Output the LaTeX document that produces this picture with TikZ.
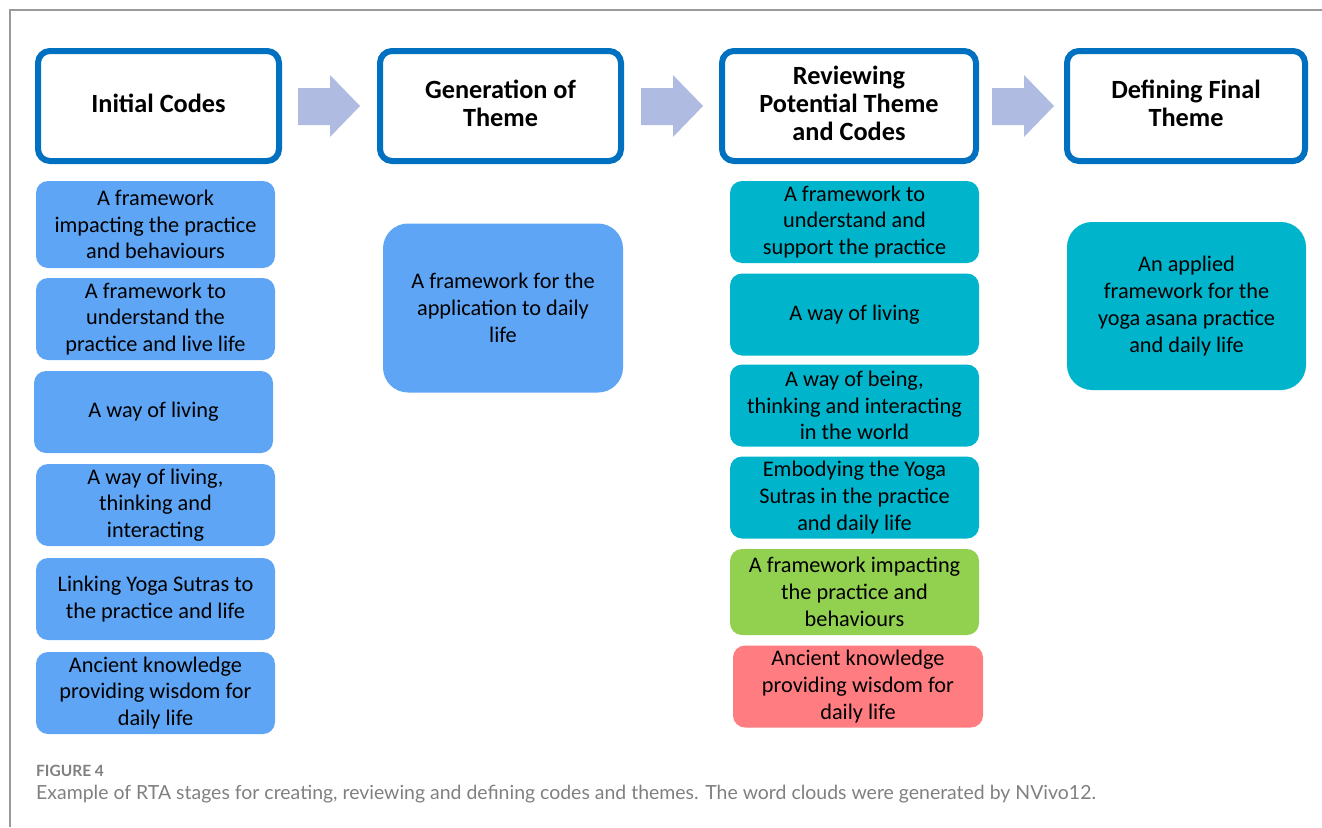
\documentclass[tikz,border=0pt]{standalone}
\usepackage{fontspec}
\setmainfont{Carlito}
\newfontfamily\captionfont{Lato}

\definecolor{headblue}{HTML}{0070C0}
\definecolor{codeblue}{HTML}{5FA5F5}
\definecolor{codeteal}{HTML}{00B4CC}
\definecolor{codegreen}{HTML}{92D050}
\definecolor{codered}{HTML}{FF7C80}
\definecolor{steparrow}{HTML}{AFBBE0}
\definecolor{framegray}{HTML}{9A9A9A}
\definecolor{capgray}{HTML}{808080}

\begin{document}
\begin{tikzpicture}[x=1pt, y=-1pt,
  stage/.style={draw=headblue, line width=6pt, rounded corners=12pt, fill=white,
    minimum width=241pt, minimum height=110pt, inner sep=0pt, align=center,
    text depth=6pt, font=\fontsize{26.3}{28}\selectfont\bfseries},
  code/.style={rounded corners=12pt, minimum width=239pt, minimum height=82pt,
    inner sep=0pt, align=center, font=\fontsize{22.3}{26.8}\selectfont},
  theme/.style={code, rounded corners=25pt, minimum height=169pt},
  stagearrow/.style={fill=steparrow}]
  \useasboundingbox (0, 0) rectangle (1322, 827);
  % frame lines
  \draw [framegray, line width=2pt] (10, 827) -- (10, 10) -- (1322, 10);
  % Draw stage headers
  \node [stage] (init) at (158.5, 106) {Initial Codes};
  \node [stage] (gen) at (500.5, 106) {Generation of\\Theme};
  \node [stage, minimum width=254pt] (rev) at (849, 106) {Reviewing\\Potential Theme\\and Codes};
  \node [stage, minimum width=238pt] (def) at (1186, 106) {Defining Final\\Theme};
  % Draw block arrows between stages
  \foreach \x in {298, 641, 992}
    \fill [stagearrow] (\x, 88) -- ++(32, 0) -- ++(0, -13) -- ++(30, 31)
      -- ++(-30, 31) -- ++(0, -12) -- ++(-32, 0) -- cycle;
  % Initial codes column
  \node [code, fill=codeblue, minimum height=87pt] (ic1) at (155.5, 224.5) {A framework\\impacting the practice\\and behaviours};
  \node [code, fill=codeblue] (ic2) at (155.5, 319) {A framework to\\understand the\\practice and live life};
  \node [code, fill=codeblue] (ic3) at (153.5, 412) {A way of living};
  \node [code, fill=codeblue] (ic4) at (155.5, 505) {A way of living,\\thinking and\\interacting};
  \node [code, fill=codeblue] (ic5) at (155.5, 599) {Linking Yoga Sutras to\\the practice and life};
  \node [code, fill=codeblue] (ic6) at (155.5, 693) {Ancient knowledge\\providing wisdom for\\daily life};
  % Generated theme
  \node [theme, fill=codeblue, minimum width=240pt] (gt) at (503, 308) {A framework for the\\application to daily\\life};
  % Reviewed codes column
  \node [code, fill=codeteal, minimum width=249pt] (rc1) at (854.5, 222) {A framework to\\understand and\\support the practice};
  \node [code, fill=codeteal, minimum width=249pt] (rc2) at (854.5, 314.5) {A way of living};
  \node [code, fill=codeteal, minimum width=249pt] (rc3) at (854.5, 405.5) {A way of being,\\thinking and interacting\\in the world};
  \node [code, fill=codeteal, minimum width=249pt] (rc4) at (854.5, 497.5) {Embodying the Yoga\\Sutras in the practice\\and daily life};
  \node [code, fill=codegreen, minimum width=249pt, minimum height=86pt] (rc5) at (854.5, 592) {A framework impacting\\the practice and\\behaviours};
  \node [code, fill=codered, minimum width=250pt] (rc6) at (858, 686.5) {Ancient knowledge\\providing wisdom for\\daily life};
  % Final theme
  \node [theme, fill=codeteal, minimum height=168pt] (ft) at (1186.5, 306) {An applied\\framework for the\\yoga asana practice\\and daily life};
  % Caption
  \node [anchor=base west, inner sep=0pt, text=capgray, font=\captionfont\bfseries\fontsize{15.5}{18}\selectfont] (fig) at (36, 776) {FIGURE 4};
  \node [anchor=base west, inner sep=0pt, text=capgray, font=\captionfont\fontsize{19.45}{24}\selectfont] (cap) at (36, 799) {Example of RTA stages for creating, reviewing and defining codes and themes. The word clouds were generated by NVivo12.};
\end{tikzpicture}
\end{document}
